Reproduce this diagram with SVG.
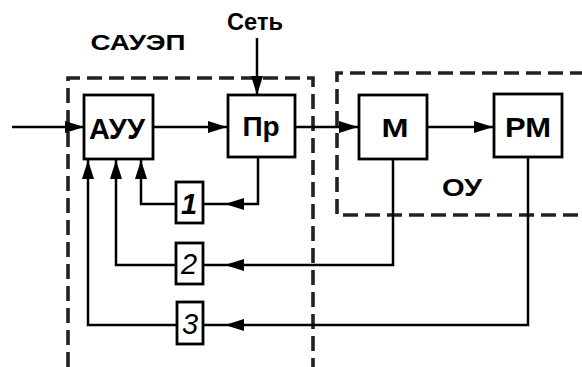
<svg xmlns="http://www.w3.org/2000/svg" width="582" height="367" viewBox="0 0 582 367">
<defs>
<style>
.box{fill:#fff;stroke:#000;stroke-width:2.8}
.ln{fill:none;stroke:#000;stroke-width:2.5}
.dash{fill:none;stroke:#222;stroke-width:3.6;stroke-dasharray:15 7}
.t{font-family:"Liberation Sans",Arial,sans-serif;font-weight:bold;text-anchor:middle;fill:#000}
.d{font-family:"Liberation Sans",Arial,sans-serif;font-style:italic;text-anchor:middle;fill:#000}
</style>
<marker id="ah" markerWidth="19" markerHeight="12" refX="19" refY="6" orient="auto" markerUnits="userSpaceOnUse">
<path d="M0,0 L19,6 L0,12 Z" fill="#000"/>
</marker>
</defs>
<rect width="582" height="367" fill="#fff"/>
<g id="frames">
<path class="dash" d="M68,367 V78 H313 V367"/>
<path class="dash" d="M585,73 H337 V215 H585"/>
</g>
<g id="connectors">
<path class="ln" d="M12,127 H84" marker-end="url(#ah)"/>
<path class="ln" d="M153,127 H227" marker-end="url(#ah)"/>
<path class="ln" d="M295,127 H358" marker-end="url(#ah)"/>
<path class="ln" d="M427,127 H493" marker-end="url(#ah)"/>
<path class="ln" d="M257,38 V95" marker-end="url(#ah)"/>
<path class="ln" d="M258,157 V204 H225" marker-end="url(#ah)"/>
<path class="ln" d="M225,204 H203"/>
<path class="ln" d="M393,159 V265 H225" marker-end="url(#ah)"/>
<path class="ln" d="M225,265 H203"/>
<path class="ln" d="M528,157 V325 H225" marker-end="url(#ah)"/>
<path class="ln" d="M225,325 H203"/>
<path class="ln" d="M176,204 H141 V160" marker-end="url(#ah)"/>
<path class="ln" d="M176,265 H116 V160" marker-end="url(#ah)"/>
<path class="ln" d="M177,325 H88 V160" marker-end="url(#ah)"/>
</g>
<g id="label-set"><text class="t" x="255" y="30" font-size="24" textLength="56" lengthAdjust="spacingAndGlyphs">Сеть</text></g>
<g id="label-sauep"><text class="t" x="138" y="50" font-size="22" textLength="95" lengthAdjust="spacingAndGlyphs">САУЭП</text></g>
<g id="label-ou"><text class="t" x="462" y="196" font-size="23" textLength="40" lengthAdjust="spacingAndGlyphs">ОУ</text></g>
<g id="node-auu"><rect class="box" x="84" y="95" width="69" height="64"/><text class="t" x="117" y="139" font-size="29" textLength="56" lengthAdjust="spacingAndGlyphs">АУУ</text></g>
<g id="node-pr"><rect class="box" x="228" y="95" width="67" height="62"/><text class="t" x="261" y="136" font-size="28">Пр</text></g>
<g id="node-m"><rect class="box" x="359" y="95" width="68" height="64"/><text class="t" x="395" y="137" font-size="26" textLength="27" lengthAdjust="spacingAndGlyphs">М</text></g>
<g id="node-rm"><rect class="box" x="494" y="94" width="68" height="63"/><text class="t" x="528" y="137" font-size="28" textLength="46" lengthAdjust="spacingAndGlyphs">РМ</text></g>
<g id="node-1"><rect class="box" x="176" y="182" width="27" height="41"/><text class="d" x="189" y="214" font-size="29" font-weight="bold">1</text></g>
<g id="node-2"><rect class="box" x="176" y="243" width="27" height="41"/><text class="d" x="189" y="274" font-size="29">2</text></g>
<g id="node-3"><rect class="box" x="177" y="302" width="26" height="42"/><text class="d" x="190" y="334" font-size="29">3</text></g>
</svg>
